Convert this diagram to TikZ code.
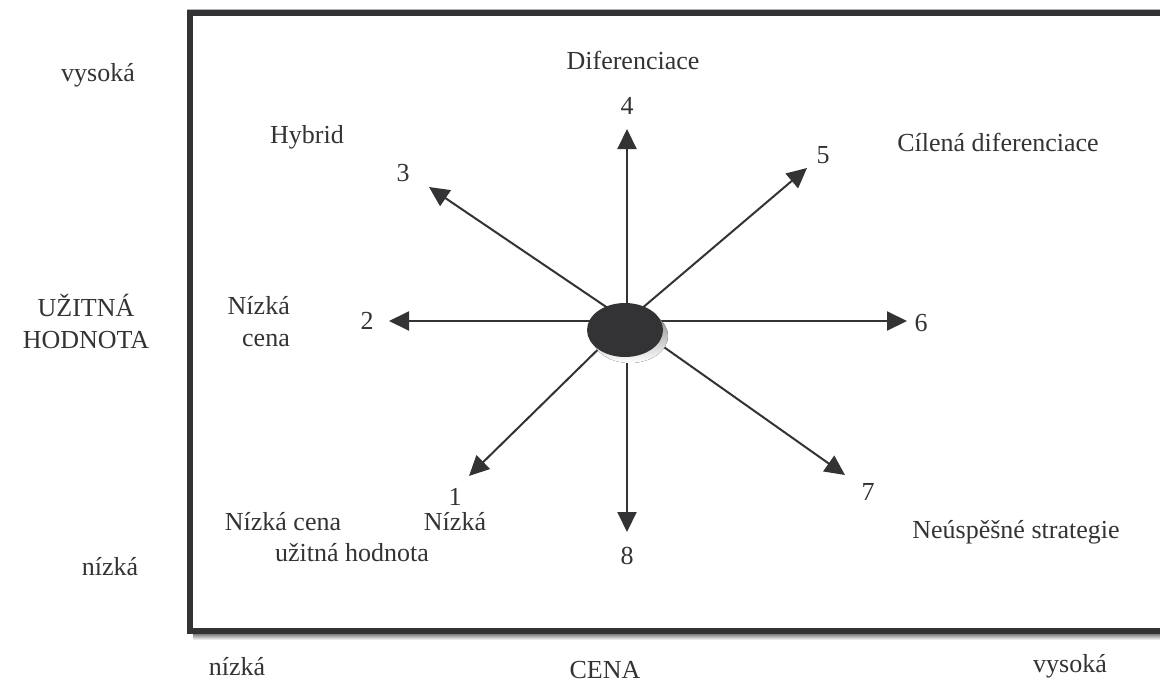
\documentclass[tikz,border=0pt]{standalone}
\usepackage{fontspec}
\setmainfont{Liberation Serif}
\usetikzlibrary{arrows.meta}
\definecolor{ink}{HTML}{333235}
\definecolor{shade}{HTML}{978B87}
\begin{document}
\begin{tikzpicture}[x=1pt,y=-1pt,
  lbl/.style={text=ink,font=\fontsize{26}{32}\selectfont,inner sep=0pt,align=center},
  ray/.style={draw=ink,line width=2pt,-{Triangle[length=20pt,width=19pt]}}]
\useasboundingbox (0,0) rectangle (1160,683);
% frame
\fill[shade] (193,634) rectangle (1160,640);
\fill[gray!60] (187,9) rectangle (1160,10);
\fill[ink] (187,10) rectangle (1160,16);
\fill[ink] (187,10) rectangle (193,634);
\fill[ink] (187,628) rectangle (1160,634);
% rays
\coordinate (c) at (627,321);
\coordinate (t1) at (469,476);
\coordinate (t2) at (389,321);
\coordinate (t3) at (429,187);
\coordinate (t4) at (627,129);
\coordinate (t5) at (807,168);
\coordinate (t6) at (907,321);
\coordinate (t7) at (845,475);
\coordinate (t8) at (627,532);
\foreach \i in {1,...,8} \draw[ray] (c) -- (t\i);
% hub
\fill[shade] (630,336) ellipse[x radius=38,y radius=27];
\fill[ink] (625,330) ellipse[x radius=38,y radius=27];
% numbers
\node[lbl] (n1) at (455,497) {1};
\node[lbl] (n2) at (367,321) {2};
\node[lbl] (n3) at (403,173) {3};
\node[lbl] (n4) at (627,106) {4};
\node[lbl] (n5) at (823,155) {5};
\node[lbl] (n6) at (921,323) {6};
\node[lbl] (n7) at (868,492) {7};
\node[lbl] (n8) at (627,556) {8};
% strategy labels
\node[lbl] (dif) at (633,60) {Diferenciace};
\node[lbl] (hyb) at (307,137) {Hybrid};
\node[lbl] (cil) at (998,142) {Cílená diferenciace};
\node[lbl,align=right,anchor=east] (nc) at (290,322) {Nízká\\cena};
\node[lbl] (ncu1) at (283,522) {Nízká cena};
\node[lbl] (ncu2) at (455,522) {Nízká};
\node[lbl] (ncu3) at (352,553) {užitná hodnota};
\node[lbl] (neu) at (1016,532) {Neúspěšné strategie};
% axes
\node[lbl] (vy) at (98,75) {vysoká};
\node[lbl] (uh) at (86,321) {UŽITNÁ\\HODNOTA};
\node[lbl] (ny) at (110,567) {nízká};
\node[lbl] (nx) at (237,667) {nízká};
\node[lbl] (cena) at (605,670) {CENA};
\node[lbl] (vx) at (1070,666) {vysoká};
\end{tikzpicture}
\end{document}
